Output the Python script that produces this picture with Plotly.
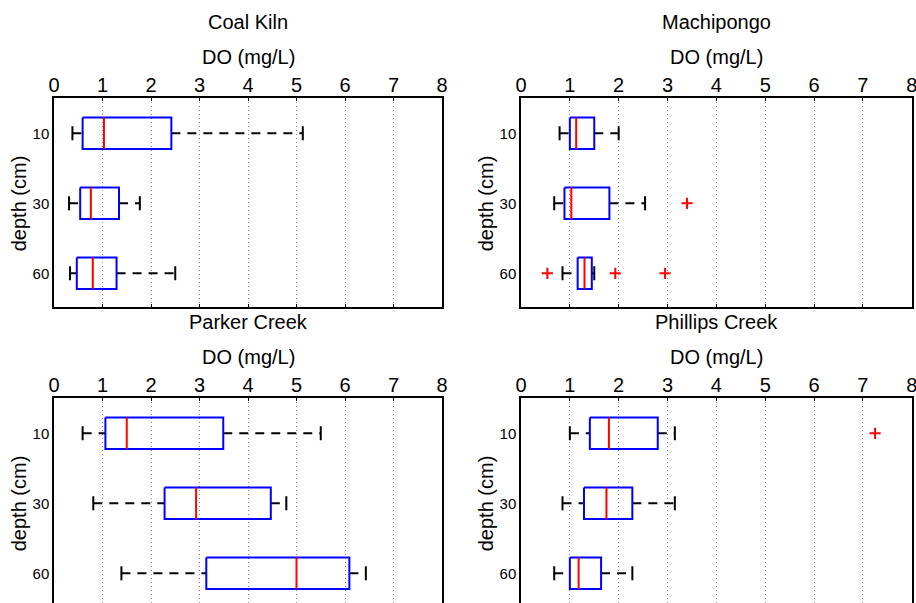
import plotly.graph_objects as go

# Depth positions (top to bottom) and their labels
depth_pos = [1, 2, 3]
depth_labels = ["10", "30", "60"]

# Dissolved oxygen box statistics per site, one value per depth (10, 30, 60 cm)
coal_lo = [0.38, 0.31, 0.33]
coal_q1 = [0.59, 0.54, 0.47]
coal_med = [1.03, 0.76, 0.80]
coal_q3 = [2.42, 1.34, 1.29]
coal_hi = [5.13, 1.77, 2.50]
coal_out = [[], [], []]

machi_lo = [0.79, 0.68, 0.85]
machi_q1 = [1.00, 0.89, 1.16]
machi_med = [1.13, 1.03, 1.30]
machi_q3 = [1.50, 1.81, 1.45]
machi_hi = [2.00, 2.54, 1.50]
machi_out = [[], [3.40], [0.54, 1.93, 2.95]]

parker_lo = [0.59, 0.81, 1.39]
parker_q1 = [1.06, 2.28, 3.14]
parker_med = [1.50, 2.93, 5.00]
parker_q3 = [3.49, 4.47, 6.09]
parker_hi = [5.50, 4.79, 6.43]
parker_out = [[], [], []]

phil_lo = [1.00, 0.85, 0.68]
phil_q1 = [1.41, 1.29, 1.00]
phil_med = [1.80, 1.75, 1.18]
phil_q3 = [2.80, 2.28, 1.64]
phil_hi = [3.15, 3.15, 2.28]
phil_out = [[7.25], [], []]

site_names = ["Coal Kiln", "Machipongo", "Parker Creek", "Phillips Creek"]
site_stats = [
    (coal_lo, coal_q1, coal_med, coal_q3, coal_hi, coal_out),
    (machi_lo, machi_q1, machi_med, machi_q3, machi_hi, machi_out),
    (parker_lo, parker_q1, parker_med, parker_q3, parker_hi, parker_out),
    (phil_lo, phil_q1, phil_med, phil_q3, phil_hi, phil_out),
]

do_ticks = list(range(0, 9))

FONT = "Liberation Sans, Arial, Helvetica, sans-serif"
W, H = 916, 603
BOX_HALF = 0.225
CAP_HALF = 0.1

# Plot-area rectangles in pixels: (left, right, top, bottom)
panels = [
    (54, 442, 98.3, 306.5),
    (521, 911.7, 98.3, 306.5),
    (54, 442, 398.3, 603),
    (521, 911.7, 398.3, 603),
]

fig = go.Figure()
layout = dict(
    width=W, height=H,
    margin=dict(l=0, r=0, t=0, b=0),
    paper_bgcolor="white", plot_bgcolor="white",
    showlegend=False,
    font=dict(family=FONT, color="black"),
    annotations=[],
)

for i, (name, stats, (l, r, t, b)) in enumerate(zip(site_names, site_stats, panels)):
    ax = "" if i == 0 else str(i + 1)
    xa, ya = "x" + ax, "y" + ax
    lo, q1, med, q3, hi, out = stats

    # whiskers (dashed)
    wx, wy = [], []
    for p, a, b1, c, d in zip(depth_pos, lo, q1, q3, hi):
        wx += [a, b1, None, c, d, None]
        wy += [p, p, None, p, p, None]
    fig.add_trace(go.Scatter(x=wx, y=wy, mode="lines", xaxis=xa, yaxis=ya,
                             line=dict(color="black", width=2, dash="9px,7px"),
                             hoverinfo="skip"))
    # whisker caps
    cx, cy = [], []
    for p, a, d in zip(depth_pos, lo, hi):
        cx += [a, a, None, d, d, None]
        cy += [p - CAP_HALF, p + CAP_HALF, None, p - CAP_HALF, p + CAP_HALF, None]
    fig.add_trace(go.Scatter(x=cx, y=cy, mode="lines", xaxis=xa, yaxis=ya,
                             line=dict(color="black", width=2), hoverinfo="skip"))
    # boxes
    bx, by = [], []
    for p, b1, c in zip(depth_pos, q1, q3):
        bx += [b1, c, c, b1, b1, None]
        by += [p - BOX_HALF, p - BOX_HALF, p + BOX_HALF, p + BOX_HALF, p - BOX_HALF, None]
    fig.add_trace(go.Scatter(x=bx, y=by, mode="lines", xaxis=xa, yaxis=ya,
                             line=dict(color="#0000ff", width=2), hoverinfo="skip"))
    # medians
    mx, my = [], []
    for p, m in zip(depth_pos, med):
        mx += [m, m, None]
        my += [p - BOX_HALF, p + BOX_HALF, None]
    fig.add_trace(go.Scatter(x=mx, y=my, mode="lines", xaxis=xa, yaxis=ya,
                             line=dict(color="#ff0000", width=2), hoverinfo="skip"))
    # outliers
    ox, oy = [], []
    for p, vals in zip(depth_pos, out):
        ox += vals
        oy += [p] * len(vals)
    if ox:
        fig.add_trace(go.Scatter(x=ox, y=oy, mode="markers", xaxis=xa, yaxis=ya,
                                 marker=dict(symbol="cross-thin", size=8,
                                             line=dict(color="#ff0000", width=2)),
                                 hoverinfo="skip"))

    is_bottom = i >= 2
    # y range: 70 px per depth slot; the lower panels run off the page edge
    ppu = 70.0
    y_bottom = 0.5 + (b - t) / ppu
    layout["xaxis" + ax] = dict(
        domain=[l / W, r / W], anchor=ya, side="top", automargin=False,
        range=[0, 8], tickvals=do_ticks, ticklabeloverflow="allow",
        showgrid=True, gridcolor="#8a8a8a", griddash="1px,3px", gridwidth=1,
        zeroline=False, showline=True, linecolor="black", linewidth=1.5,
        mirror=("ticks" if not is_bottom else False),
        ticks="inside", ticklen=3, tickcolor="black",
        ticklabelstandoff=-3,
        tickfont=dict(size=20, family=FONT),
    )
    layout["yaxis" + ax] = dict(
        domain=[1 - b / H, 1 - t / H], anchor=xa, automargin=False,
        range=[y_bottom, 0.5], tickvals=depth_pos, ticktext=depth_labels,
        showgrid=False, zeroline=False, showline=True, linecolor="black",
        linewidth=1.5, mirror=True, ticks="",
        ticklabelstandoff=0,
        tickfont=dict(size=15, family=FONT),
    )

    cxp = (l + r) / 2 / W
    layout["annotations"] += [
        dict(text=name, x=cxp, y=1 - (t - 76.6) / H, xref="paper", yref="paper",
             xanchor="center", yanchor="middle", showarrow=False,
             font=dict(size=20, family=FONT)),
        dict(text="DO (mg/L)", x=cxp, y=1 - (t - 41.3) / H, xref="paper", yref="paper",
             xanchor="center", yanchor="middle", showarrow=False,
             font=dict(size=20, family=FONT)),
        dict(text="depth (cm)", x=(l - 35) / W, y=1 - (t + 105) / H,
             xref="paper", yref="paper", xanchor="center", yanchor="middle",
             textangle=-90, showarrow=False, font=dict(size=20, family=FONT)),
    ]

fig.update_layout(**layout)
fig.write_html("out.html")
